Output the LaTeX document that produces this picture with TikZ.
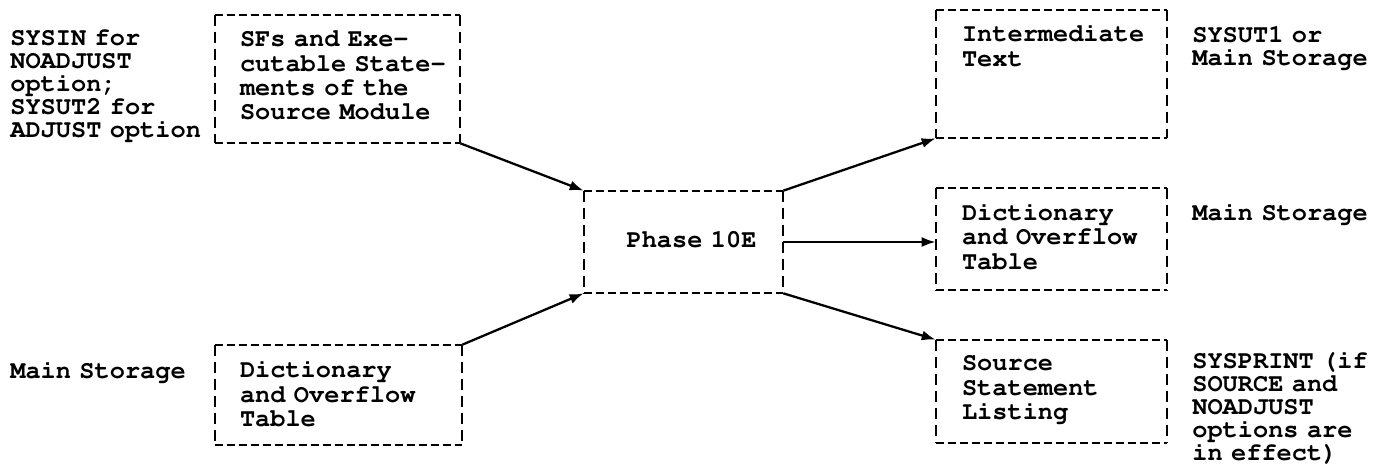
\documentclass[tikz,border=0pt]{standalone}
\usepackage[T1]{fontenc}
\usepackage{courier}
\usetikzlibrary{arrows.meta}

\tikzset{
  box/.style={inner sep=0pt, minimum width=#1},
  txt/.style={font=\ttfamily\bfseries\fontsize{14.4}{13.9}\selectfont,
    inner sep=0pt, text width=6cm, align=left, anchor=base west},
  labl/.style={txt, font=\ttfamily\bfseries\fontsize{14.4}{13.2}\selectfont},
  hline/.style={line width=1.3pt, dash pattern=on 0.16cm off 0.08cm},
  vline/.style={line width=1.3pt, dash pattern=on 0.22cm off 0.12cm},
  flow/.style={line width=1.3pt, -{Latex[length=0.28cm, width=0.2cm]}}
}

\begin{document}
\begin{tikzpicture}[x=0.02cm, y=-0.02cm]
\useasboundingbox (0,0) rectangle (1389,474);

% boxes, sizes in px of the sheet
\node[box=4.9cm,  minimum height=2.56cm] (src) at (337.5,79) {};
\node[box=4.94cm, minimum height=2cm]    (dic) at (338.5,395) {};
\node[box=3.98cm, minimum height=2.04cm] (ph)  at (683.5,242) {};
\node[box=4.62cm, minimum height=2.56cm] (it)  at (1051.5,74) {};
\node[box=4.62cm, minimum height=2.04cm] (ov)  at (1051.5,239) {};
\node[box=4.62cm, minimum height=2.06cm] (lst) at (1051.5,391.5) {};

\foreach \b in {src,dic,ph,it,ov,lst} {
  \draw[hline] (\b.north west) -- (\b.north east) (\b.south west) -- (\b.south east);
  \draw[vline] (\b.north west) -- (\b.south west) (\b.north east) -- (\b.south east);
}

% box texts
\node[txt] (srcT) at ([shift={(25,32)}]src.north west)
  {SFs and Exe-\\cutable State-\\ments of the\\Source Module};
\node[txt] (dicT) at ([shift={(25,33)}]dic.north west)
  {Dictionary\\and Overflow\\Table};
\node[txt, text width=3cm, align=center, anchor=base] (phT) at ([shift={(8,5)}]ph.center)
  {Phase 10E};
\node[txt] (itT) at ([shift={(26,32)}]it.north west) {Intermediate\\Text};
\node[txt] (ovT) at ([shift={(26,32.5)}]ov.north west)
  {Dictionary\\and Overflow\\Table};
\node[txt] (lstT) at ([shift={(26,31)}]lst.north west)
  {Source\\Statement\\Listing};

% data set names
\node[labl] (inL) at (10,45)
  {SYSIN for\\NOADJUST\\option;\\SYSUT2 for\\ADJUST option};
\node[labl] (msL) at (10,378) {Main Storage};
\node[labl] (itL) at (1192,42) {SYSUT1 or\\Main Storage};
\node[labl] (ovL) at (1192,220) {Main Storage};
\node[labl] (lstL) at (1192,368)
  {SYSPRINT (if\\SOURCE and\\NOADJUST\\options are\\in effect)};

% flow
\draw[flow] (src.south east) -- (ph.north west);
\draw[flow] (dic.north east) -- (ph.south west);
\draw[flow] (ph.north east) -- (it.south west);
\draw[flow] (ph.east) -- (ph.east -| ov.west);
\draw[flow] (ph.south east) -- (lst.north west);
\end{tikzpicture}
\end{document}
